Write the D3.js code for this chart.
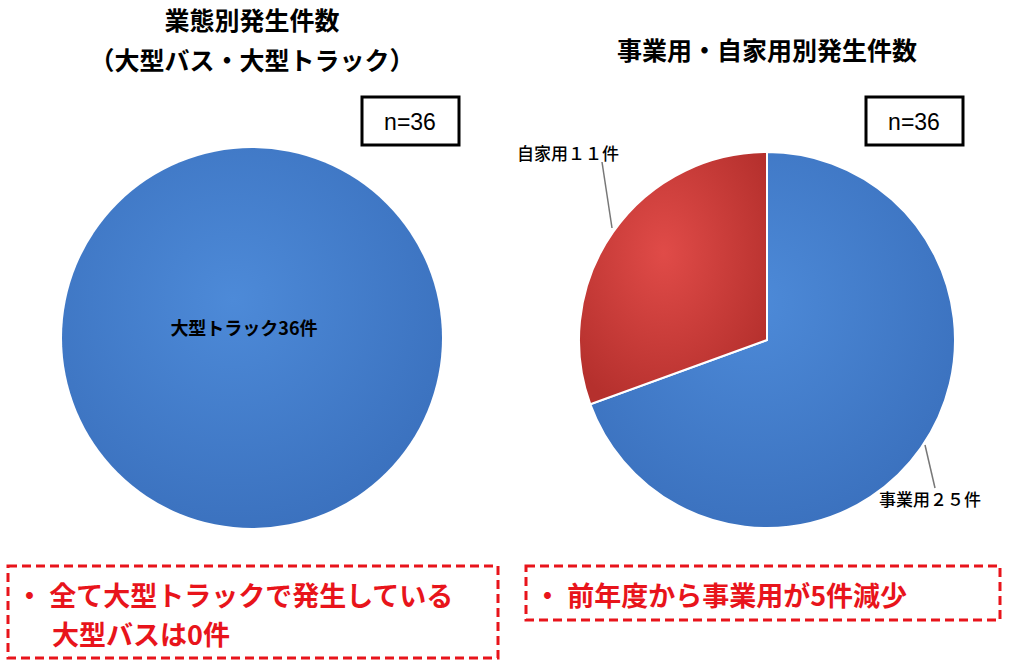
<!DOCTYPE html>
<html>
<head>
<meta charset="UTF-8">
<script src="https://cdn.jsdelivr.net/npm/d3@7"></script>
<style>body{margin:0;background:#fff;}</style>
</head>
<body>
<script>
var leftCats = ['大型トラック', '大型バス'];
var leftVals = [36, 0];
var rightCats = ['事業用', '自家用'];
var rightVals = [25, 11];
var rightLabels = ['事業用２５件', '自家用１１件'];
var total = 'n=36';

var font = '"Noto Sans CJK JP", sans-serif';
var svg = d3.select('body').append('svg').attr('width', 1024).attr('height', 663);

var defs = svg.append('defs');
function grad(id, c1, c2) {
    var g = defs.append('radialGradient').attr('id', id).attr('cx', '45%').attr('cy', '40%').attr('r', '65%');
    g.append('stop').attr('offset', '0%').attr('stop-color', c1);
    g.append('stop').attr('offset', '100%').attr('stop-color', c2);
}
grad('gBlue', '#4d8ad8', '#3a70bd');
grad('gRed', '#e04b48', '#b5302d');
var fills = ['url(#gBlue)', 'url(#gRed)'];

function title(x, y, t) {
    svg.append('text').attr('x', x).attr('y', y).attr('text-anchor', 'middle')
        .attr('font-family', font).attr('font-weight', 'bold').attr('font-size', 25).text(t);
}
title(252, 30, '業態別発生件数');
title(252, 70, '（大型バス・大型トラック）');
title(767, 60, '事業用・自家用別発生件数');

function nbox(x) {
    svg.append('rect').attr('x', x).attr('y', 97).attr('width', 97).attr('height', 48)
        .attr('fill', '#fff').attr('stroke', '#000').attr('stroke-width', 3);
    svg.append('text').attr('x', x + 48).attr('y', 130).attr('text-anchor', 'middle')
        .attr('font-family', 'Liberation Sans, Arial, sans-serif').attr('font-size', 23).text(total);
}
nbox(362);
nbox(866);

var pie = d3.pie().sort(null);

// left pie (zero slice is dropped so no seam shows)
var r1 = 190;
var arc1 = d3.arc().innerRadius(0).outerRadius(r1);
var g1 = svg.append('g').attr('transform', 'translate(252,338)');
g1.selectAll('path').data(pie(leftVals).filter(function(d) { return d.value > 0; })).enter().append('path')
    .attr('d', arc1).attr('fill', function(d) { return fills[d.index]; });
g1.append('text').attr('x', -8).attr('y', -3).attr('text-anchor', 'middle')
    .attr('font-family', font).attr('font-weight', 'bold').attr('font-size', 18)
    .text(leftCats[0] + leftVals[0] + '件');

// right pie
var r2 = 188;
var arc2 = d3.arc().innerRadius(0).outerRadius(r2);
var g2 = svg.append('g').attr('transform', 'translate(767,340)');
g2.selectAll('path').data(pie(rightVals)).enter().append('path')
    .attr('d', arc2).attr('fill', function(d, i) { return fills[i]; })
    .attr('stroke', '#fff').attr('stroke-width', 2);

g2.append('polyline').attr('points', '-165,-178 -155,-112').attr('fill', 'none').attr('stroke', '#777').attr('stroke-width', 1.5);
g2.append('polyline').attr('points', '158,105 168,148').attr('fill', 'none').attr('stroke', '#777').attr('stroke-width', 1.5);
g2.append('text').attr('x', -250).attr('y', -180).attr('font-family', font).attr('font-weight', 500).attr('font-size', 17).text(rightLabels[1]);
g2.append('text').attr('x', 112).attr('y', 166).attr('font-family', font).attr('font-weight', 500).attr('font-size', 17).text(rightLabels[0]);

// notes
function dbox(x, y, w, h) {
    svg.append('rect').attr('x', x).attr('y', y).attr('width', w).attr('height', h)
        .attr('fill', 'none').attr('stroke', '#e8141b').attr('stroke-width', 3).attr('stroke-dasharray', '9,5');
}
dbox(8, 566, 490, 92);
dbox(526, 566, 474, 54);
function note(x, y, t) {
    svg.append('text').attr('x', x).attr('y', y).attr('font-family', font).attr('font-weight', 'bold')
        .attr('font-size', 27).attr('fill', '#e8141b').text(t);
}
note(16, 606, '・ 全て大型トラックで発生している');
note(52, 645, '大型バスは0件');
note(534, 606, '・ 前年度から事業用が5件減少');
</script>
</body>
</html>
